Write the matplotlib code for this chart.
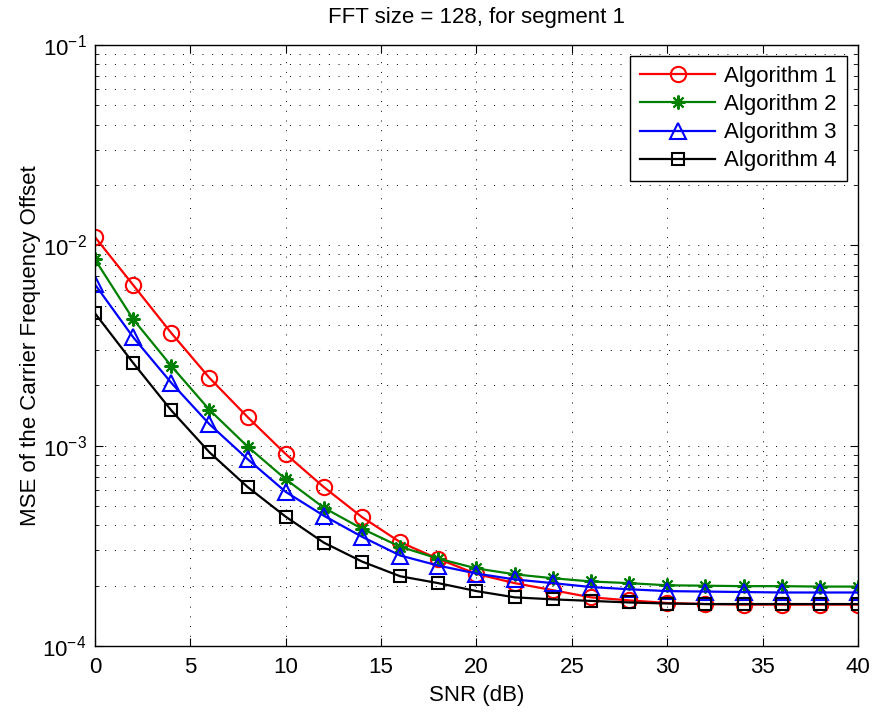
import numpy as np
import matplotlib
matplotlib.use("Agg")
from matplotlib import pyplot as plt
from matplotlib.ticker import LogLocator, NullFormatter

#-------------数据-------------
snr = [0, 2, 4, 6, 8, 10, 12, 14, 16, 18, 20, 22, 24, 26, 28, 30, 32, 34, 36, 38, 40]

alg1 = [0.0110, 0.00634, 0.00365, 0.00218, 0.00139, 0.000908, 0.000621, 0.00044, 0.00033, 0.000272,
        0.000229, 0.000206, 0.00019, 0.000175, 0.000169, 0.000164, 0.000162, 0.000161, 0.000161, 0.000161, 0.000161]
alg2 = [0.0085, 0.00428, 0.0025, 0.00151, 0.00099, 0.00068, 0.00049, 0.000385, 0.000313, 0.000273,
        0.000244, 0.000228, 0.000218, 0.00021, 0.000206, 0.000201, 0.0002, 0.000199, 0.000199, 0.000198, 0.000198]
alg3 = [0.00638, 0.00348, 0.00206, 0.00128, 0.000857, 0.000588, 0.000447, 0.000351, 0.000283, 0.000252,
        0.00023, 0.000215, 0.000206, 0.000197, 0.000192, 0.000188, 0.000187, 0.000186, 0.000185, 0.000185, 0.000185]
alg4 = [0.00458, 0.00259, 0.0015, 0.000927, 0.000622, 0.000442, 0.000328, 0.000264, 0.000223, 0.000206,
        0.000188, 0.000175, 0.000171, 0.000168, 0.000165, 0.000163, 0.000162, 0.000162, 0.000162, 0.000162, 0.000162]

labels = ["Algorithm 1", "Algorithm 2", "Algorithm 3", "Algorithm 4"]
colors = ["red", "green", "blue", "black"]
markers = ["o", (8, 2, 0), "^", "s"]
msizes = [11, 10, 12, 9]

plt.rcParams['font.family'] = ['Liberation Sans', 'DejaVu Sans']
plt.rcParams['mathtext.fontset'] = 'custom'
plt.rcParams['mathtext.rm'] = 'Liberation Sans'
fs = 16

fig = plt.figure(figsize=(8.77, 7.14), dpi=100)
ax = fig.add_axes([0.1083, 0.0952, 0.870, 0.8418])

#-------------画曲线-------------
for y, lab, c, m, ms in zip([alg1, alg2, alg3, alg4], labels, colors, markers, msizes):
    ax.semilogy(snr, y, color=c, marker=m, markersize=ms, markerfacecolor="none",
                markeredgecolor=c, markeredgewidth=1.5, linewidth=1.6, label=lab)

ax.set_xlim(0, 40)
ax.set_ylim(1e-4, 1e-1)
ax.set_xticks(range(0, 41, 5))
ax.yaxis.set_major_locator(LogLocator(base=10, numticks=10))
ax.yaxis.set_minor_locator(LogLocator(base=10, subs=np.arange(2, 10), numticks=20))
ax.yaxis.set_minor_formatter(NullFormatter())

dots = (0, (1, 9))
ax.grid(True, which="major", linestyle=dots, color="black", linewidth=0.7)
ax.grid(True, which="minor", axis="y", linestyle=dots, color="black", linewidth=0.7)
ax.tick_params(which="both", direction="in", top=True, right=True, labelsize=fs)
ax.tick_params(which="major", length=6)
ax.tick_params(which="minor", length=3)
ax.tick_params(axis="x", pad=8)
ax.tick_params(axis="y", pad=6)
for sp in ax.spines.values():
    sp.set_linewidth(1.0)

ax.set_title("FFT size = 128, for segment 1", fontsize=fs, pad=16)
ax.set_xlabel("SNR (dB)", fontsize=fs, labelpad=5)
ax.set_ylabel("MSE of the Carrier Frequency Offset", fontsize=fs, labelpad=1)

leg = ax.legend(loc="upper right", fontsize=fs, fancybox=False, edgecolor="black",
                framealpha=1, borderaxespad=0.5, handlelength=3.4, handletextpad=0.4,
                labelspacing=0.32, borderpad=0.45)
leg.get_frame().set_linewidth(1.0)

plt.savefig("out.png", dpi=100)
